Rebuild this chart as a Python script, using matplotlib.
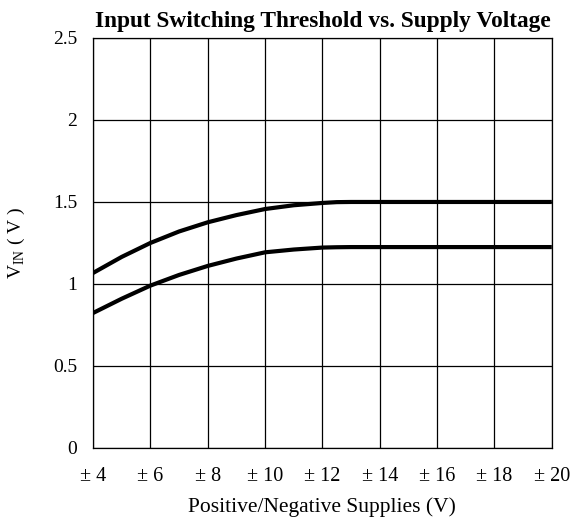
import numpy as np
import matplotlib
matplotlib.use('Agg')
import matplotlib.pyplot as plt

plt.rcParams['font.family'] = ['Liberation Serif', 'DejaVu Serif']
plt.rcParams['mathtext.fontset'] = 'custom'
plt.rcParams['mathtext.rm'] = 'Liberation Serif'

# 数据
supply = [4, 5, 6, 7, 8, 9, 10, 11, 12, 12.5, 13, 14, 16, 18, 20]
vin_high = [1.067, 1.165, 1.25, 1.32, 1.376, 1.42, 1.457, 1.48, 1.494, 1.499, 1.5, 1.5, 1.5, 1.5, 1.5]
vin_low = [0.823, 0.91, 0.99, 1.055, 1.11, 1.155, 1.193, 1.21, 1.222, 1.224, 1.225, 1.225, 1.225, 1.225, 1.225]

x_ticks = [4, 6, 8, 10, 12, 14, 16, 18, 20]
x_tick_labels = ['\u00b1 %d' % v for v in x_ticks]
y_ticks = [0, 0.5, 1, 1.5, 2, 2.5]
y_tick_labels = ['0', '0.5', '1', '1.5', '2', '2.5']

fig = plt.figure(figsize=(5.76, 5.2), dpi=100)
ax = fig.add_axes([0.1615, 0.1385, 0.7965, 0.7885])

ax.plot(supply, vin_high, color='black', lw=3, solid_capstyle='butt')
ax.plot(supply, vin_low, color='black', lw=3, solid_capstyle='butt')

ax.set_xlim(4, 20)
ax.set_ylim(0, 2.5)
ax.set_xticks(x_ticks)
ax.set_xticklabels(x_tick_labels)
ax.set_yticks(y_ticks)
ax.set_yticklabels(y_tick_labels)
ax.tick_params(length=0)
ax.tick_params(axis='x', pad=14, labelsize=14.5)
ax.tick_params(axis='y', pad=11.5, labelsize=14)

ax.grid(True, color='black', lw=0.9)
for s in ax.spines.values():
    s.set_color('black')
    s.set_linewidth(0.9)

ax.set_xlabel('Positive/Negative Supplies (V)', fontsize=15.5)
ax.xaxis.set_label_coords(0.5, -0.12)
ax.set_ylabel(r'V$_{\mathrm{IN}}$ ( V )', fontsize=14)
ax.yaxis.set_label_coords(-0.145, 0.5)
ax.set_title('Input Switching Threshold vs. Supply Voltage', fontsize=16.8,
             fontweight='bold', pad=8)

plt.savefig('out.png', dpi=100)
